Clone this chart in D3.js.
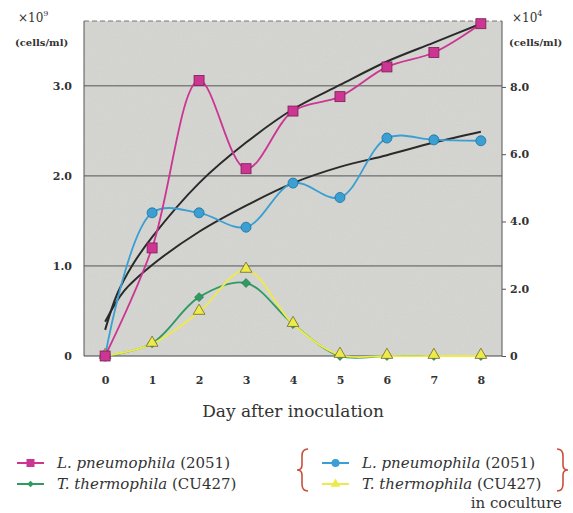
<!DOCTYPE html>
<html>
<head>
<meta charset="utf-8">
<script src="https://cdn.jsdelivr.net/npm/d3@7"></script>
<style>
  body { margin: 0; background: #fff; }
  svg text { font-family: "DejaVu Serif", "Liberation Serif", serif; fill: #333; }
</style>
</head>
<body>
<svg id="chart" width="573" height="513"></svg>
<script>
const days = [0, 1, 2, 3, 4, 5, 6, 7, 8];

// left axis, x10^9 cells/ml
const lpAlone = [0, 1.2, 3.06, 2.08, 2.72, 2.88, 3.21, 3.37, 3.69];
const lpCo = [0, 1.59, 1.59, 1.43, 1.92, 1.76, 2.42, 2.40, 2.39];

// right axis, x10^4 cells/ml
const ttAlone = [0, 0.38, 1.75, 2.17, 0.95, 0, 0, 0, 0];
const ttCo = [0, 0.36, 1.31, 2.56, 0.95, 0.03, 0, 0, 0];

// fitted curves (left axis)
const fitUpperX = [0, 0.25, 0.57, 1, 2, 3, 4, 5, 6, 7, 8];
const fitUpperY = [0.29, 0.68, 1.0, 1.32, 1.92, 2.37, 2.74, 3.01, 3.27, 3.48, 3.69];
const fitLowerX = [0, 0.4, 1, 2, 3, 4, 5, 6, 7, 8];
const fitLowerY = [0.38, 0.72, 1.01, 1.38, 1.67, 1.92, 2.1, 2.23, 2.37, 2.49];

const leftTicks = [0, 1.0, 2.0, 3.0];
const rightTicks = [0, 2.0, 4.0, 6.0, 8.0];

const svg = d3.select("#chart");

const pLeft = 84, pRight = 502, pTop = 21, pBottom = 356;

const x = d3.scaleLinear().domain([-0.45, 8.45]).range([pLeft, pRight]);
const yL = d3.scaleLinear().domain([0, 3.72]).range([pBottom, pTop]);
const yR = d3.scaleLinear().domain([0, 9.96]).range([pBottom, pTop]);

// speckled gray background
const defs = svg.append("defs");
const noise = defs.append("filter").attr("id", "noise").attr("x", 0).attr("y", 0).attr("width", "100%").attr("height", "100%");
noise.append("feTurbulence").attr("type", "fractalNoise").attr("baseFrequency", 0.9).attr("numOctaves", 2).attr("result", "t");
noise.append("feColorMatrix").attr("type", "matrix")
  .attr("values", "0 0 0 0 1  0 0 0 0 1  0 0 0 0 1  0 0 0 0.5 -0.1");
noise.append("feComposite").attr("in2", "SourceGraphic").attr("operator", "in");

svg.append("rect")
  .attr("x", pLeft).attr("y", pTop)
  .attr("width", pRight - pLeft).attr("height", pBottom - pTop)
  .attr("fill", "#d1d2ce");
svg.append("rect")
  .attr("x", pLeft).attr("y", pTop)
  .attr("width", pRight - pLeft).attr("height", pBottom - pTop)
  .attr("fill", "#d1d2ce")
  .attr("filter", "url(#noise)")
  .attr("opacity", 0.35);

// grid
svg.selectAll(".grid")
  .data(leftTicks.filter(d => d > 0))
  .join("line")
  .attr("x1", pLeft).attr("x2", pRight)
  .attr("y1", d => yL(d)).attr("y2", d => yL(d))
  .attr("stroke", "#555").attr("stroke-width", 1);

// frame
svg.append("line").attr("x1", pLeft).attr("x2", pRight).attr("y1", pTop).attr("y2", pTop)
  .attr("stroke", "#777").attr("stroke-dasharray", "5,3");
svg.append("line").attr("x1", pLeft).attr("x2", pLeft).attr("y1", pTop).attr("y2", pBottom)
  .attr("stroke", "#555");
svg.append("line").attr("x1", pRight).attr("x2", pRight).attr("y1", pTop).attr("y2", pBottom)
  .attr("stroke", "#555");

// axes
const xAxis = svg.append("g")
  .attr("transform", `translate(0,${pBottom})`)
  .call(d3.axisBottom(x).tickValues(days).tickSize(0).tickPadding(20).tickFormat(d3.format("d")));
xAxis.select(".domain").attr("stroke", "#444").attr("d", `M${pLeft},0H${pRight}`);
xAxis.selectAll("text").attr("font-size", 11).attr("font-weight", "bold").attr("fill", "#333");

const yAxisL = svg.append("g")
  .attr("transform", `translate(${pLeft},0)`)
  .call(d3.axisLeft(yL).tickValues(leftTicks).tickSize(0).tickPadding(12)
    .tickFormat(d => d === 0 ? "0" : d3.format(".1f")(d)));
yAxisL.select(".domain").remove();
yAxisL.selectAll("text").attr("font-size", 11).attr("font-weight", "bold").attr("fill", "#333");

const yAxisR = svg.append("g")
  .attr("transform", `translate(${pRight},0)`)
  .call(d3.axisRight(yR).tickValues(rightTicks).tickSize(4).tickPadding(4)
    .tickFormat(d => d === 0 ? "0" : d3.format(".1f")(d)));
yAxisR.select(".domain").remove();
yAxisR.selectAll("line").attr("stroke", "#555");
yAxisR.selectAll("text").attr("font-size", 11).attr("font-weight", "bold").attr("fill", "#333");

// unit labels
function unit(xp, exp) {
  const t = svg.append("text").attr("x", xp).attr("y", 22).attr("font-size", 12);
  t.append("tspan").text("×10");
  t.append("tspan").attr("font-size", 8).attr("dy", -6).text(exp);
  svg.append("text").attr("x", xp - 3).attr("y", 46).attr("font-size", 10)
    .attr("font-weight", "bold").text("(cells/ml)");
}
unit(18, "9");
unit(512, "4");

// x title
svg.append("text")
  .attr("x", (x(0) + x(8)) / 2).attr("y", 417)
  .attr("text-anchor", "middle").attr("font-size", 17)
  .text("Day after inoculation");

// series
const pink = "#cc3592", blue = "#3a9fd2", green = "#2f9a62", yellow = "#eeea4a";

const lineL = d3.line().x(d => x(d[0])).y(d => yL(d[1])).curve(d3.curveCatmullRom.alpha(0.5));
const lineR = d3.line().x(d => x(d[0])).y(d => yR(d[1])).curve(d3.curveCatmullRom.alpha(0.5));

const zip = (xs, ys) => xs.map((v, i) => [v, ys[i]]);

// fitted curves
svg.append("path").datum(zip(fitUpperX, fitUpperY)).attr("d", lineL)
  .attr("fill", "none").attr("stroke", "#2a2a2a").attr("stroke-width", 2);
svg.append("path").datum(zip(fitLowerX, fitLowerY)).attr("d", lineL)
  .attr("fill", "none").attr("stroke", "#2a2a2a").attr("stroke-width", 2);

svg.append("path").datum(zip(days, ttAlone)).attr("d", lineR)
  .attr("fill", "none").attr("stroke", green).attr("stroke-width", 1.8);
svg.append("path").datum(zip(days, ttCo)).attr("d", lineR)
  .attr("fill", "none").attr("stroke", yellow).attr("stroke-width", 1.8);
svg.append("path").datum(zip(days, lpCo)).attr("d", lineL)
  .attr("fill", "none").attr("stroke", blue).attr("stroke-width", 1.8);
svg.append("path").datum(zip(days, lpAlone)).attr("d", lineL)
  .attr("fill", "none").attr("stroke", pink).attr("stroke-width", 1.8);

// markers
const sym = (type, size) => d3.symbol().type(type).size(size)();

svg.selectAll(".tt").data(zip(days, ttAlone)).join("path")
  .attr("transform", d => `translate(${x(d[0])},${yR(d[1])}) rotate(45)`)
  .attr("d", sym(d3.symbolSquare, 40))
  .attr("fill", green).attr("stroke", "#1e6e44").attr("stroke-width", 0.6);

svg.selectAll(".ttc").data(zip(days, ttCo)).join("path")
  .attr("transform", d => `translate(${x(d[0])},${yR(d[1]) - 1})`)
  .attr("d", sym(d3.symbolTriangle, 60))
  .attr("fill", yellow).attr("stroke", "#6d6a2a").attr("stroke-width", 0.8);

svg.selectAll(".lpc").data(zip(days, lpCo)).join("circle")
  .attr("cx", d => x(d[0])).attr("cy", d => yL(d[1])).attr("r", 5)
  .attr("fill", blue).attr("stroke", "#1f6f99").attr("stroke-width", 0.8);

svg.selectAll(".lp").data(zip(days, lpAlone)).join("rect")
  .attr("x", d => x(d[0]) - 5).attr("y", d => yL(d[1]) - 5)
  .attr("width", 10).attr("height", 10)
  .attr("fill", pink).attr("stroke", "#7a1e55").attr("stroke-width", 0.8);

// legend
function legendRow(x0, yy, color, marker, genus, rest) {
  svg.append("line").attr("x1", x0).attr("x2", x0 + 27).attr("y1", yy).attr("y2", yy)
    .attr("stroke", color).attr("stroke-width", 2);
  const cx = x0 + 13.5;
  if (marker === "square") {
    svg.append("rect").attr("x", cx - 4).attr("y", yy - 4).attr("width", 8).attr("height", 8).attr("fill", color);
  } else if (marker === "circle") {
    svg.append("circle").attr("cx", cx).attr("cy", yy).attr("r", 4).attr("fill", color);
  } else if (marker === "diamond") {
    svg.append("path").attr("transform", `translate(${cx},${yy}) rotate(45)`)
      .attr("d", sym(d3.symbolSquare, 22)).attr("fill", color);
  } else {
    svg.append("path").attr("transform", `translate(${cx},${yy})`)
      .attr("d", sym(d3.symbolTriangle, 40)).attr("fill", color);
  }
  const t = svg.append("text").attr("x", x0 + 40).attr("y", yy + 5).attr("font-size", 15);
  t.append("tspan").attr("font-style", "italic").text(genus);
  t.append("tspan").text(rest);
}

legendRow(17, 463, pink, "square", "L. pneumophila", " (2051)");
legendRow(17, 484, green, "diamond", "T. thermophila", " (CU427)");
legendRow(322, 463, blue, "circle", "L. pneumophila", " (2051)");
legendRow(322, 484, yellow, "triangle", "T. thermophila", " (CU427)");

// braces
const brace = "#c8503a";
svg.append("path")
  .attr("d", "M308,449 Q302,449 302,456 L302,465 Q302,470 297,470 Q302,470 302,475 L302,484 Q302,491 308,491")
  .attr("fill", "none").attr("stroke", brace).attr("stroke-width", 1.6);
svg.append("path")
  .attr("d", "M557,449 Q563,449 563,456 L563,465 Q563,470 568,470 Q563,470 563,475 L563,484 Q563,491 557,491")
  .attr("fill", "none").attr("stroke", brace).attr("stroke-width", 1.6);

svg.append("text").attr("x", 562).attr("y", 508).attr("text-anchor", "end")
  .attr("font-size", 15).text("in coculture");
</script>
</body>
</html>
